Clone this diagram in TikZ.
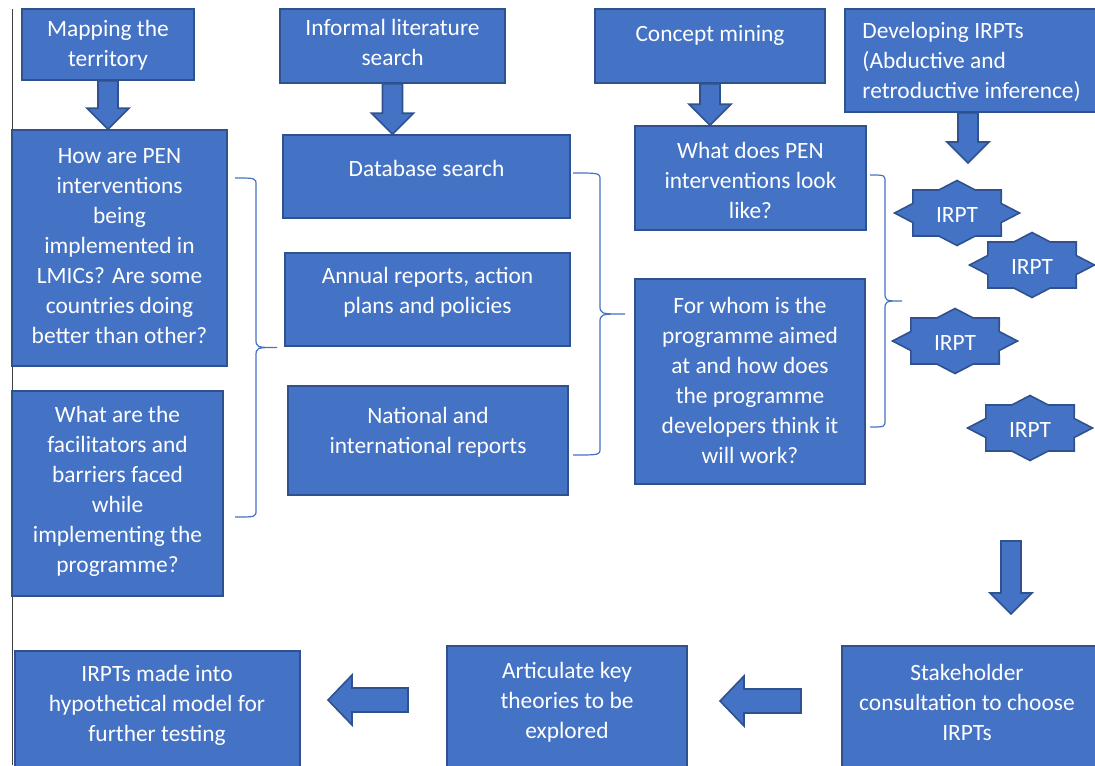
\documentclass[tikz,border=0pt]{standalone}
\usepackage{fontspec}
\setmainfont{Carlito}
\usetikzlibrary{fit,calc}

\definecolor{boxblue}{HTML}{4472C4}
\definecolor{boxedge}{HTML}{2F528F}
\definecolor{rulegrey}{HTML}{404040}

\tikzset{
  box/.style={draw=boxedge, fill=boxblue, line width=0.8pt, inner sep=0pt},
  txt/.style={text=white, align=center, inner sep=0pt, font=\fontsize{11.7}{15}\selectfont},
  block/.style={draw=boxedge, fill=boxblue, line width=0.8pt},
  bracket/.style={draw=boxblue, line width=0.6pt},
  irptstar/.style={draw=boxedge, fill=boxblue, line width=0.8pt}
}

% block arrows: #1 tail centre, #2 tip
\newcommand\downblock[2]{%
  \draw[block] ($(#1)+(-10,0)$) -- ($(#2)+(-10,-21)$) -- ($(#2)+(-21,-21)$) -- (#2)
    -- ($(#2)+(21,-21)$) -- ($(#2)+(10,-21)$) -- ($(#1)+(10,0)$) -- cycle;}
\newcommand\leftblock[2]{%
  \draw[block] ($(#1)+(0,-12)$) -- ($(#2)+(24,-12)$) -- ($(#2)+(24,-25)$) -- (#2)
    -- ($(#2)+(24,25)$) -- ($(#2)+(24,12)$) -- ($(#1)+(0,12)$) -- cycle;}
% right brace: arm x, spine x, tip x, top y, bottom y
\newcommand\curlybrace[5]{%
  \draw[bracket] (#1,#4) .. controls (#2,#4) .. (#2,{#4+7}) -- (#2,{(#4+#5)/2-9})
    .. controls (#2,{(#4+#5)/2}) .. (#3,{(#4+#5)/2})
    .. controls (#2,{(#4+#5)/2}) .. (#2,{(#4+#5)/2+9}) -- (#2,{#5-7})
    .. controls (#2,#5) .. (#1,#5);}

\begin{document}
\begin{tikzpicture}[x=0.5pt, y=-0.5pt]
\useasboundingbox (0,0) rectangle (1095,765);
\clip (0,0) rectangle (1095,765);

\draw[rulegrey, line width=0.8pt] (12.5,9) -- (12.5,765);

% first column
\node[box, fit={(22,9) (194,80)}] (map) {};
\node[txt] (mapT) at (108,45) {Mapping the\\territory};
\node[box, fit={(12,130) (227,366)}] (pen) {};
\node[txt] (penT) at (119.5,246) {How are PEN\\interventions\\being\\implemented in\\LMICs? Are some\\countries doing\\better than other?};
\node[box, fit={(12,391) (223,596)}] (facil) {};
\node[txt] (facilT) at (117.5,491.5) {What are the\\facilitators and\\barriers faced\\while\\implementing the\\programme?};

% second column
\node[box, fit={(280,9) (505,83)}] (informal) {};
\node[txt] (informalT) at (392.5,42.5) {Informal literature\\search};
\node[box, fit={(283,135) (570,218)}] (database) {};
\node[txt] (databaseT) at (426.5,168) {Database search};
\node[box, fit={(285,253) (570,346)}] (annual) {};
\node[txt] (annualT) at (427.5,292) {Annual reports, action\\plans and policies};
\node[box, fit={(288,386) (568,495)}] (national) {};
\node[txt] (nationalT) at (428,432) {National and\\international reports};

% third column
\node[box, fit={(595,9) (825,83)}] (concept) {};
\node[txt] (conceptT) at (710,35) {Concept mining};
\node[box, fit={(635,126) (866,230)}] (whatpen) {};
\node[txt] (whatpenT) at (750.5,180) {What does PEN\\interventions look\\like?};
\node[box, fit={(635,279) (865,484)}] (forwhom) {};
\node[txt] (forwhomT) at (750,380) {For whom is the\\programme aimed\\at and how does\\the programme\\developers think it\\will work?};

% fourth column
\node[box, fit={(845,9) (1100,112)}] (develop) {};
\node[txt, align=left, anchor=west] (developT) at (862,61.5) {Developing IRPTs\\(Abductive and\\retroductive inference)};
\foreach \n/\cx/\cy in {1/957/213, 2/1032/265, 3/955/341, 4/1030/428} {
  \draw[irptstar] plot[variable=\t, samples at={0,22.5,...,337.5}]
    ({\cx+62.5*(1-0.235*mod(round(\t/22.5),2))*cos(\t)},
     {\cy+32.5*(1-0.235*mod(round(\t/22.5),2))*sin(\t)}) -- cycle;
  \node[txt] (irpt\n) at (\cx,{\cy+2}) {IRPT};
}

% bottom row
\node[box, fit={(842,646) (1100,800)}] (stake) {};
\node[txt] (stakeT) at (967,702) {Stakeholder\\consultation to choose\\IRPTs};
\node[box, fit={(447,646) (687,800)}] (artic) {};
\node[txt] (articT) at (567,702) {Articulate key\\theories to be\\explored};
\node[box, fit={(15,651) (300,800)}] (irptsmade) {};
\node[txt] (irptsmadeT) at (157,705) {IRPTs made into\\hypothetical model for\\further testing};

% braces
\curlybrace{235}{256}{277}{178}{517}
\curlybrace{573}{600}{625}{173}{455}
\curlybrace{870}{885}{902}{175}{427}

% arrows
\coordinate (devtip) at (968,163);
\coordinate (stktop) at (1011,541);
\coordinate (stktip) at (1011,614);
\coordinate (articout) at (801,701);
\coordinate (articin) at (720,701);
\coordinate (madeout) at (408,700);
\coordinate (madein) at (328,700);
\downblock{map.south}{map.south |- pen.north}
\downblock{informal.south}{informal.south |- database.north}
\downblock{concept.south}{concept.south |- whatpen.north}
\downblock{devtip |- develop.south}{devtip}
\downblock{stktop}{stktip}
\leftblock{articout}{articin}
\leftblock{madeout}{madein}
\end{tikzpicture}
\end{document}
